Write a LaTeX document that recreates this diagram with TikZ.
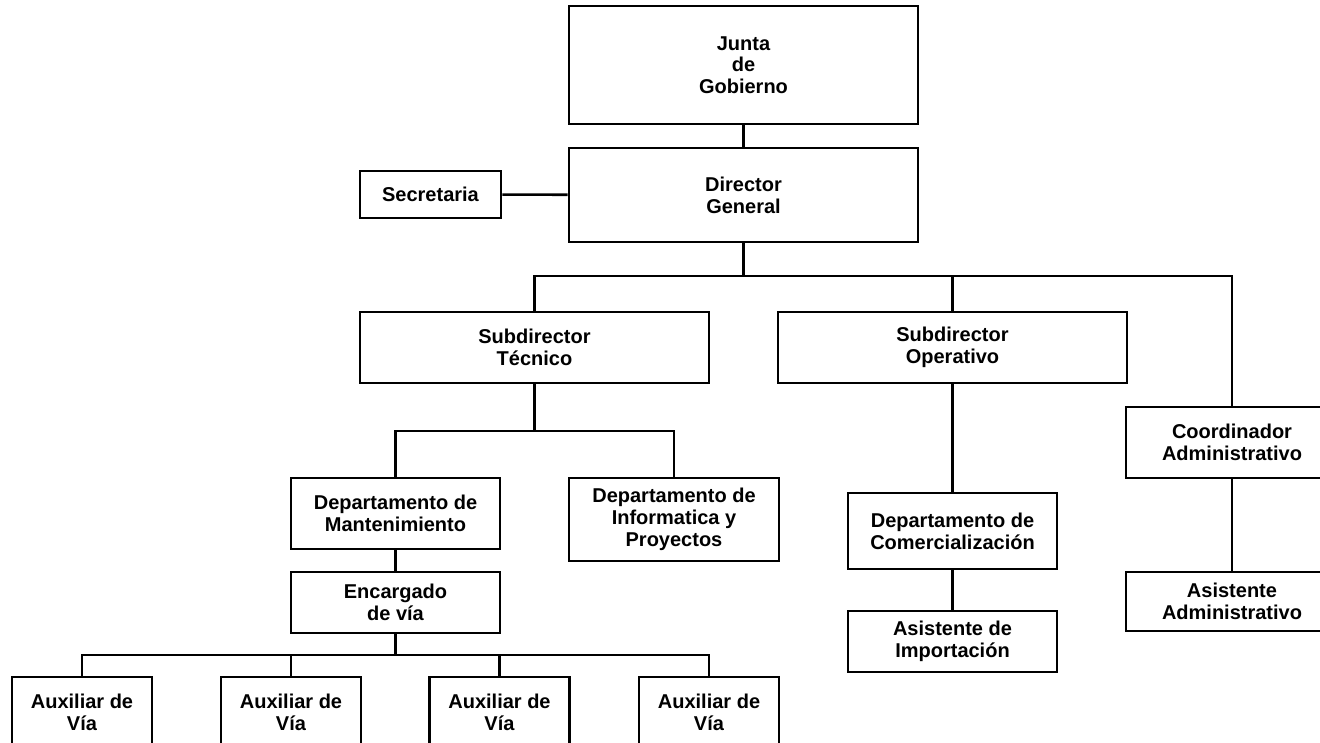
\documentclass[tikz,border=0pt]{standalone}
\usepackage{fontspec}
\setmainfont{Liberation Sans}
\usetikzlibrary{positioning}

\begin{document}
\begin{tikzpicture}[x=1pt, y=-1pt,
    caja/.style={draw, line width=2.8pt, fill=white, align=center, inner sep=0pt,
        font=\bfseries\fontsize{20}{21.7}\selectfont},
    linea/.style={line width=2.6pt}]
    \useasboundingbox (0,0) rectangle (1320,742);
    \clip (0,0) rectangle (1320,742);

    % Direccion
    \node[caja, minimum width=349pt, minimum height=118pt] (junta) at (743.5,65) {Junta\\de\\Gobierno};
    \node[caja, minimum width=349pt, minimum height=94pt] (director) at (743.5,195) {Director\\General};
    \node[caja, minimum width=141pt, minimum height=47pt] (secretaria) at (430.5,194.5) {Secretaria};

    % Subdirecciones
    \node[caja, minimum width=349pt, minimum height=71pt] (subtec) at (534.5,347.5) {Subdirector\\T\'ecnico};
    \node[caja, minimum width=349pt, minimum height=71pt] (subop) at (952.5,347.5) {Subdirector\\Operativo};
    \node[caja, minimum width=212pt, minimum height=71pt] (coord) at (1232,442.5) {Coordinador\\Administrativo};

    % Departamentos
    \node[caja, minimum width=209pt, minimum height=71pt] (depmant) at (395.5,513.5) {Departamento de\\Mantenimiento};
    \node[caja, minimum width=210pt, minimum height=83pt] (depinf) at (674,519.5) {Departamento de\\Informatica y\\Proyectos};
    \node[caja, minimum width=209pt, minimum height=76pt] (depcom) at (952.5,531) {Departamento de\\Comercializaci\'on};
    \node[caja, minimum width=209pt, minimum height=61pt] (encargado) at (395.5,602.5) {Encargado\\de v\'ia};
    \node[caja, minimum width=209pt, minimum height=61pt] (asisimp) at (952.5,641.5) {Asistente de\\Importaci\'on};
    \node[caja, minimum width=212pt, minimum height=59pt] (asisadm) at (1232,601.5) {Asistente\\Administrativo};

    % Auxiliares
    \foreach \x [count=\i] in {82,291,499.5,709}
        \node[caja, minimum width=140pt, minimum height=70pt] (aux\i) at (\x,712) {Auxiliar de\\V\'ia};

    % Conexiones
    \coordinate (busA) at (743.5,276);
    \coordinate (busB) at (534.5,431);
    \coordinate (busC) at (395.5,655);
    \draw[linea] (junta) -- (director);
    \draw[linea] (secretaria) -- (director);
    \draw[linea] (director.south) -- (busA);
    \foreach \n in {subtec,subop,coord}
        \draw[linea] (\n.north) |- (busA);
    \draw[linea] (subtec.south) -- (busB);
    \foreach \n in {depmant,depinf}
        \draw[linea] (\n.north) |- (busB);
    \draw[linea] (depmant) -- (encargado);
    \draw[linea] (subop) -- (depcom);
    \draw[linea] (depcom) -- (asisimp);
    \draw[linea] (coord) -- (asisadm);
    \draw[linea] (encargado.south) -- (busC);
    \foreach \i in {1,...,4}
        \draw[linea] (aux\i.north) |- (busC);
\end{tikzpicture}
\end{document}
